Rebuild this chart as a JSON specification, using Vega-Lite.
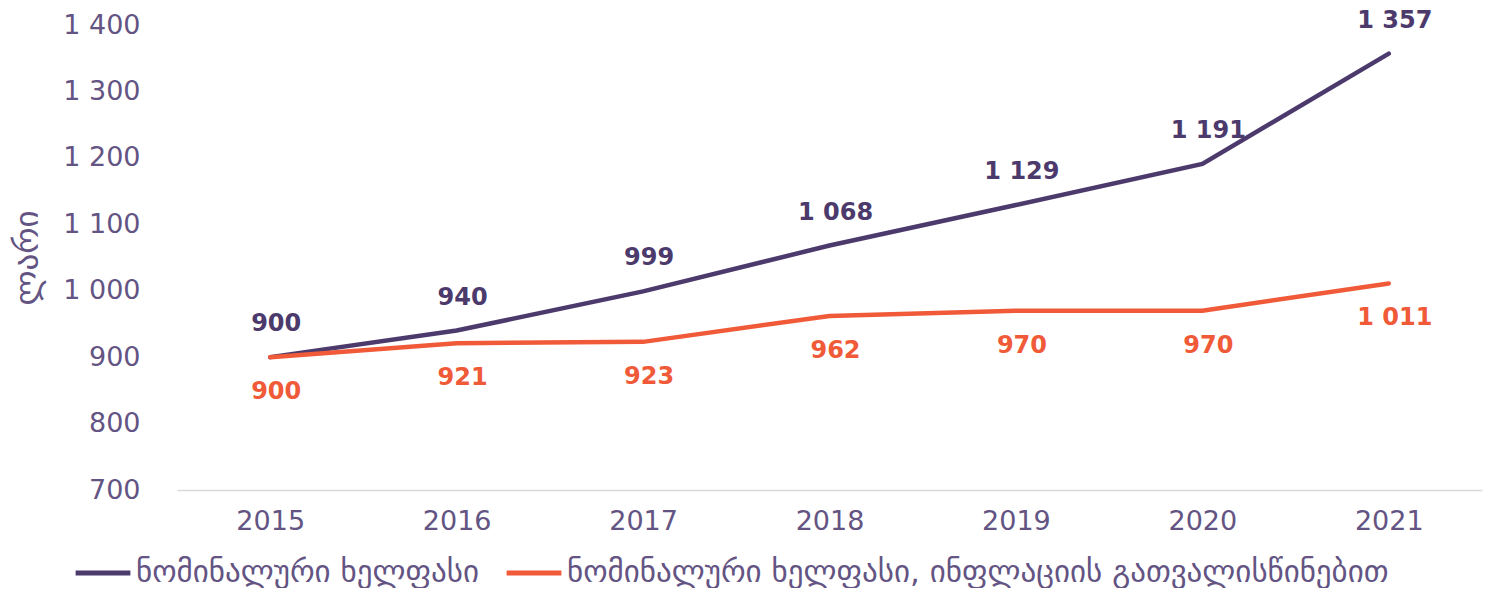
{
  "$schema": "https://vega.github.io/schema/vega-lite/v6.json",
  "width": 1305,
  "height": 465,
  "autosize": {"type": "pad"},
  "padding": {"left": 11, "right": 3, "top": 8, "bottom": 0},
  "background": "white",
  "config": {
    "font": "DejaVu Sans",
    "view": {"stroke": null},
    "locale": {"number": {"decimal": ",", "thousands": " ", "grouping": [3], "currency": ["", ""]}}
  },
  "data": {
    "values": [
      {"year": "2015", "series": "ნომინალური ხელფასი", "value": 900},
      {"year": "2016", "series": "ნომინალური ხელფასი", "value": 940},
      {"year": "2017", "series": "ნომინალური ხელფასი", "value": 999},
      {"year": "2018", "series": "ნომინალური ხელფასი", "value": 1068},
      {"year": "2019", "series": "ნომინალური ხელფასი", "value": 1129},
      {"year": "2020", "series": "ნომინალური ხელფასი", "value": 1191},
      {"year": "2021", "series": "ნომინალური ხელფასი", "value": 1357},
      {"year": "2015", "series": "ნომინალური ხელფასი, ინფლაციის გათვალისწინებით", "value": 900},
      {"year": "2016", "series": "ნომინალური ხელფასი, ინფლაციის გათვალისწინებით", "value": 921},
      {"year": "2017", "series": "ნომინალური ხელფასი, ინფლაციის გათვალისწინებით", "value": 923},
      {"year": "2018", "series": "ნომინალური ხელფასი, ინფლაციის გათვალისწინებით", "value": 962},
      {"year": "2019", "series": "ნომინალური ხელფასი, ინფლაციის გათვალისწინებით", "value": 970},
      {"year": "2020", "series": "ნომინალური ხელფასი, ინფლაციის გათვალისწინებით", "value": 970},
      {"year": "2021", "series": "ნომინალური ხელფასი, ინფლაციის გათვალისწინებით", "value": 1011}
    ]
  },
  "encoding": {
    "x": {
      "field": "year", "type": "ordinal",
      "scale": {"type": "point", "padding": 0.5},
      "axis": {
        "title": null, "labelAngle": 0, "labelFontSize": 27, "labelColor": "#635483",
        "labelPadding": 18, "ticks": false, "domainColor": "#d9d9d9", "domainWidth": 1.5, "grid": false
      }
    },
    "y": {
      "field": "value", "type": "quantitative",
      "scale": {"domain": [700, 1400], "nice": false, "zero": false},
      "axis": {
        "title": "ლარი", "titleFontSize": 33, "titleFontWeight": "normal", "titleColor": "#635483", "titlePadding": 18,
        "labelFontSize": 27, "labelColor": "#635483", "labelPadding": 37,
        "values": [700, 800, 900, 1000, 1100, 1200, 1300, 1400],
        "labelExpr": "format(datum.value, ',')",
        "ticks": false, "domain": false, "grid": false
      }
    }
  },
  "layer": [
    {
      "mark": {"type": "line", "strokeWidth": 4.5, "strokeCap": "round"},
      "encoding": {
        "color": {
          "field": "series", "type": "nominal",
          "scale": {
            "domain": ["ნომინალური ხელფასი", "ნომინალური ხელფასი, ინფლაციის გათვალისწინებით"],
            "range": ["#4b3a6b", "#f05a38"]
          },
          "legend": {
            "title": null, "orient": "none", "legendX": -104, "legendY": 518, "direction": "horizontal",
            "symbolType": "stroke", "symbolStrokeWidth": 5, "symbolSize": 3000,
            "labelFontSize": 31, "labelColor": "#635483", "labelLimit": 2000,
            "columnPadding": 16, "labelOffset": 3, "padding": 0
          }
        }
      }
    },
    {
      "transform": [{"filter": "datum.series == 'ნომინალური ხელფასი'"}],
      "mark": {"type": "text", "dy": -33, "dx": 6, "fontSize": 24, "fontWeight": "bold", "color": "#4b3a6b"},
      "encoding": {
        "text": {"field": "value", "type": "quantitative", "format": ","}
      }
    },
    {
      "transform": [{"filter": "datum.series != 'ნომინალური ხელფასი'"}],
      "mark": {"type": "text", "dy": 35, "dx": 6, "fontSize": 24, "fontWeight": "bold", "color": "#f05a38"},
      "encoding": {
        "text": {"field": "value", "type": "quantitative", "format": ","}
      }
    }
  ]
}
